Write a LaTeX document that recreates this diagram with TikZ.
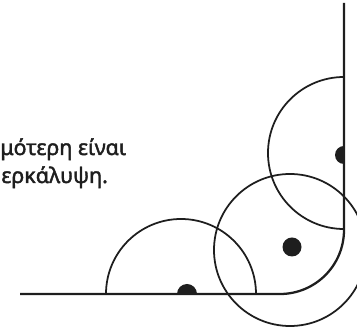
\documentclass[tikz,border=0pt]{standalone}
\usepackage{fontspec}
\setmainfont{Noto Sans}
\newfontfamily\greekfont[FakeBold=1.8]{Noto Sans}
\usetikzlibrary{positioning}
\definecolor{inkgray}{RGB}{30,30,30}

\begin{document}
\begin{tikzpicture}[
  x=0.2mm, y=0.2mm,
  wall/.style={draw=inkgray, line width=1.3pt},
  ring/.style={draw=inkgray, line width=1pt},
  dot/.style={fill=inkgray},
  txt/.style={font=\greekfont\fontsize{12.2}{15}\selectfont, text=inkgray, anchor=base west, inner sep=0pt},
]
\useasboundingbox (0,0) rectangle (357,327);
\clip (0,0) rectangle (357,327);

% ============ Text ============
\node[txt] (line1) at (0,172) {μότερη είναι};
\node[txt] (line2) at (1,144) {ερκάλυψη.};

% ============ Floor and wall ============
\coordinate (floorstart) at (20,33);
\coordinate (walltop) at (344,324);
\draw[wall, rounded corners=12.8mm] (floorstart) -| (walltop);

% ============ Circles ============
\coordinate (cfloor) at (181,33);
\coordinate (cmid) at (290,77);
\coordinate (cwall) at (344,174);
\draw[ring] (cfloor) ++(180:75) arc[start angle=180, end angle=0, radius=75];
\draw[ring] (cwall) ++(90:76) arc[start angle=90, end angle=270, radius=76];
\draw[ring] (cmid) circle[radius=76];

% ============ Dots ============
\coordinate (dfloor) at (187,33);
\coordinate (dmid) at (292,80);
\coordinate (dwall) at (344,172);
\fill[dot] (dfloor) ++(10,0) arc[start angle=0, end angle=180, radius=10] -- cycle;
\fill[dot] (dwall) ++(0,9) arc[start angle=90, end angle=270, radius=9] -- cycle;
\fill[dot] (dmid) circle[radius=9.5];

\end{tikzpicture}
\end{document}
